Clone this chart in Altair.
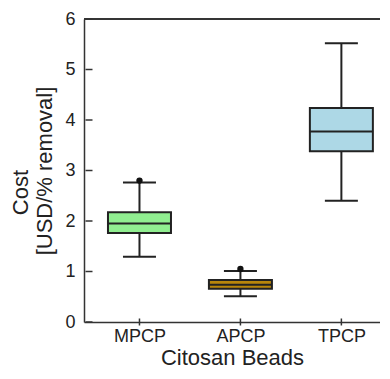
import altair as alt
import pandas as pd

cats = ["MPCP", "APCP", "TPCP"]
positions = [1, 2, 3]
lower = [1.29, 0.51, 2.40]
q1 = [1.76, 0.66, 3.38]
median = [1.95, 0.74, 3.77]
q3 = [2.175, 0.83, 4.24]
upper = [2.76, 1.01, 5.52]
colors = ["#90EE90", "#B8860B", "#ADD8E6"]
outlier_cat = ["MPCP", "APCP"]
outlier_pos = [1, 2]
outlier_val = [2.80, 1.05]
y_ticks = [0, 1, 2, 3, 4, 5, 6]

df = pd.DataFrame({"cat": cats, "pos": positions, "lower": lower, "q1": q1,
                   "median": median, "q3": q3, "upper": upper, "color": colors})
dfo = pd.DataFrame({"cat": outlier_cat, "pos": outlier_pos, "val": outlier_val})
dfy = pd.DataFrame({"t": y_ticks})

FONT = "Liberation Sans"
label_expr = "[" + ",".join(f"'{c}'" for c in cats) + "][datum.value - 1]"

X_MIN = 0.5
xs = alt.Scale(domain=[X_MIN, 3.333], nice=False, zero=False)
ys = alt.Scale(domain=[0, 6], nice=False, zero=True)

xaxis = alt.Axis(title="Citosan Beads", values=positions, labelExpr=label_expr,
                 grid=False, ticks=False, labelPadding=5, titlePadding=2,
                 labelFontSize=18, titleFontSize=22, labelFont=FONT, titleFont=FONT,
                 labelColor="#222", titleColor="#222", domainColor="#333",
                 titleFontWeight="normal", domainWidth=1.5)
yaxis = alt.Axis(title="[USD/% removal]", values=y_ticks,
                 grid=False, ticks=False, labelPadding=9, titlePadding=8,
                 labelFontSize=18, titleFontSize=22, labelFont=FONT, titleFont=FONT,
                 labelColor="#222", titleColor="#222", domainColor="#333",
                 titleFontWeight="normal", domainWidth=1.5)

base = alt.Chart(df)

whisk = base.mark_rule(color="#222", strokeWidth=2).encode(
    x=alt.X("pos:Q", scale=xs, axis=xaxis),
    y=alt.Y("lower:Q", scale=ys, axis=yaxis),
    y2="upper:Q",
)
box = base.mark_bar(size=63, stroke="#222", strokeWidth=2).encode(
    x=alt.X("pos:Q", scale=xs),
    y=alt.Y("q1:Q", scale=ys),
    y2="q3:Q",
    fill=alt.Fill("color:N", scale=None),
)
med = base.mark_tick(orient="horizontal", size=63, thickness=2, color="#222", opacity=1).encode(
    x=alt.X("pos:Q", scale=xs), y=alt.Y("median:Q", scale=ys))
cap_lo = base.mark_tick(orient="horizontal", size=33, thickness=2, color="#222", opacity=1).encode(
    x=alt.X("pos:Q", scale=xs), y=alt.Y("lower:Q", scale=ys))
cap_hi = base.mark_tick(orient="horizontal", size=33, thickness=2, color="#222", opacity=1).encode(
    x=alt.X("pos:Q", scale=xs), y=alt.Y("upper:Q", scale=ys))
outl = alt.Chart(dfo).mark_point(filled=True, color="#111", size=40, opacity=1).encode(
    x=alt.X("pos:Q", scale=xs), y=alt.Y("val:Q", scale=ys))
top = alt.Chart(df).mark_rule(color="#333", strokeWidth=1.5).encode(y=alt.datum(6))
ytk = alt.Chart(dfy).mark_tick(orient="horizontal", size=7, thickness=1.5, color="#333", opacity=1).encode(
    x=alt.datum(X_MIN, scale=xs), y=alt.Y("t:Q", scale=ys))
xtk = base.mark_tick(orient="vertical", size=7, thickness=1.5, color="#333", opacity=1).encode(
    x=alt.X("pos:Q", scale=xs), y=alt.datum(0, scale=ys))

chart = alt.layer(whisk, box, med, cap_lo, cap_hi, outl, top, ytk, xtk).properties(
    width=296, height=303,
    title=alt.TitleParams("Cost", orient="left", anchor="middle", fontSize=22,
                          font=FONT, fontWeight="normal", color="#222", offset=1, dx=-22),
    autosize=alt.AutoSizeParams(type="none"),
    padding={"left": 76, "top": 11, "right": 0, "bottom": 48},
).configure_view(stroke=None)

chart.save("out.html", embed_options={"renderer": "svg", "actions": False})
